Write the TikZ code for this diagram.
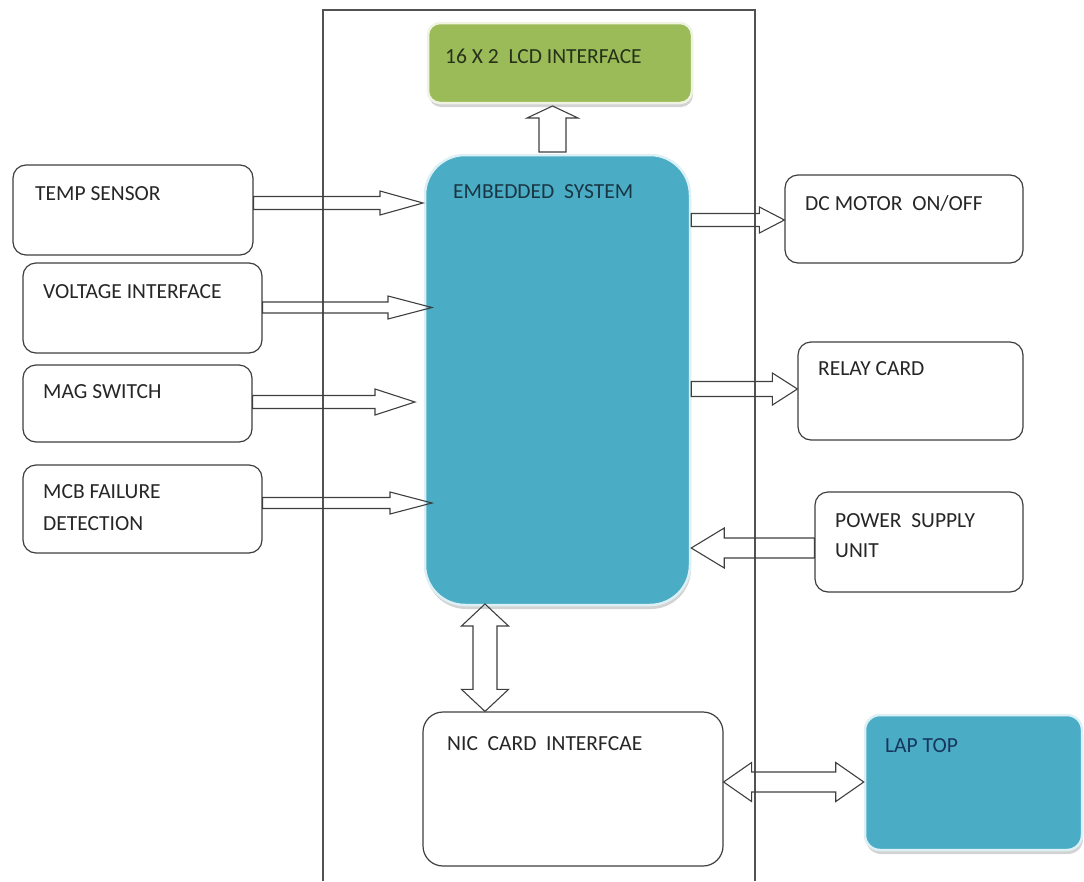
\documentclass[tikz,border=0pt]{standalone}
\usepackage{fontspec}
\setmainfont{Carlito}
\usetikzlibrary{calc,shadows,positioning}
\definecolor{edge}{HTML}{3F3F3F}
\definecolor{lcdgreen}{HTML}{9BBB59}
\definecolor{embblue}{HTML}{4BACC6}
\definecolor{glowgreen}{HTML}{EEF3E2}
\definecolor{glowblue}{HTML}{DDF0F5}
\definecolor{txtgray}{HTML}{262626}
\definecolor{txtgreen}{HTML}{26311A}
\definecolor{txtblue}{HTML}{1A3644}
\definecolor{txtnavy}{HTML}{17365D}
\tikzset{
  wbox/.style={draw=edge, line width=1.2pt, rounded corners=13pt, fill=white, inner sep=0pt},
  cbox/.style={line width=2.5pt, inner sep=0pt, drop shadow={shadow xshift=1pt, shadow yshift=-4pt, opacity=0.35}},
  txt/.style={anchor=base west, inner sep=0pt, font=\fontsize{21.5}{26}\selectfont, text=txtgray},
  barrow/.style={draw=edge, line width=1.1pt, line join=miter},
  framel/.style={draw=edge!90, line width=1.4pt}
}
% right/left horizontal block arrow: #1 tail, #2 tip, #3 half shaft, #4 half head, #5 head length (signed)
\newcommand\hblk[5]{%
  \draw[barrow] ($(#1)+(0,-#3)$) -- ($(#2)+({-(#5)},-#3)$) -- ($(#2)+({-(#5)},-#4)$) -- (#2)
    -- ($(#2)+({-(#5)},#4)$) -- ($(#2)+({-(#5)},#3)$) -- ($(#1)+(0,#3)$) -- cycle;}
% vertical block arrow (y axis points down): #5 head length signed
\newcommand\vblk[5]{%
  \draw[barrow] ($(#1)+(-#3,0)$) -- ($(#2)+(-#3,{-(#5)})$) -- ($(#2)+(-#4,{-(#5)})$) -- (#2)
    -- ($(#2)+(#4,{-(#5)})$) -- ($(#2)+(#3,{-(#5)})$) -- ($(#1)+(#3,0)$) -- cycle;}
% double horizontal: #1 left tip, #2 right tip, #3 half shaft, #4 half head, #5 head length
\newcommand\hdblk[5]{%
  \draw[barrow] (#1) -- ($(#1)+(#5,-#4)$) -- ($(#1)+(#5,-#3)$) -- ($(#2)+(-#5,-#3)$) -- ($(#2)+(-#5,-#4)$) -- (#2)
    -- ($(#2)+(-#5,#4)$) -- ($(#2)+(-#5,#3)$) -- ($(#1)+(#5,#3)$) -- ($(#1)+(#5,#4)$) -- cycle;}
% double vertical: #1 top tip, #2 bottom tip
\newcommand\vdblk[5]{%
  \draw[barrow] (#1) -- ($(#1)+(#4,#5)$) -- ($(#1)+(#3,#5)$) -- ($(#2)+(#3,-#5)$) -- ($(#2)+(#4,-#5)$) -- (#2)
    -- ($(#2)+(-#4,-#5)$) -- ($(#2)+(-#3,-#5)$) -- ($(#1)+(-#3,#5)$) -- ($(#1)+(-#4,#5)$) -- cycle;}
\begin{document}
\begin{tikzpicture}[x=1pt,y=-1pt]
\useasboundingbox (0,0) rectangle (1084,881);

% outer frame
\coordinate (fbl) at (323,881);
\coordinate (ftl) at (323,10);
\coordinate (ftr) at (755,10);
\coordinate (fbr) at (755,881);
\draw[framel] (fbl) -- (ftl) -- (ftr) -- (fbr);

% coloured boxes
\node[cbox, fill=lcdgreen, draw=glowgreen, rounded corners=12pt, minimum width=264pt, minimum height=80pt] (lcd) at (560,63) {};
\node[cbox, fill=embblue, draw=glowblue, rounded corners=40pt, minimum width=265pt, minimum height=450pt] (emb) at (557.5,380) {};
\node[cbox, fill=embblue, draw=glowblue, rounded corners=15pt, minimum width=217pt, minimum height=135pt] (lap) at (973.5,782.5) {};

% white boxes
\node[wbox, minimum width=240pt, minimum height=90pt] (temp) at (133,210) {};
\node[wbox, minimum width=239pt, minimum height=90pt] (volt) at (142.5,308) {};
\node[wbox, minimum width=229pt, minimum height=77pt] (mag) at (137.5,403.5) {};
\node[wbox, minimum width=239pt, minimum height=88pt] (mcb) at (142.5,509) {};
\node[wbox, minimum width=238pt, minimum height=88pt] (dc) at (904,219) {};
\node[wbox, minimum width=225pt, minimum height=98pt] (relay) at (910.5,391) {};
\node[wbox, minimum width=208pt, minimum height=100pt] (power) at (919,542) {};
\node[wbox, rounded corners=20pt, minimum width=300pt, minimum height=154pt] (nic) at (573,789) {};

% texts
\node[txt, text=txtgreen] (lcdt) at (445,63) {16 X 2\ \ LCD INTERFACE};
\node[txt, text=txtblue] (embt) at (453,198) {EMBEDDED\ \ SYSTEM};
\node[txt] (tempt) at (35,200) {TEMP SENSOR};
\node[txt] (voltt) at (43,298) {VOLTAGE INTERFACE};
\node[txt] (magt) at (43,398) {MAG SWITCH};
\node[txt] (mcbt) at (43,498) {MCB FAILURE};
\node[txt] (mcbt2) at (43,530) {DETECTION};
\node[txt] (dct) at (805,210) {DC MOTOR\ \ ON/OFF};
\node[txt] (relayt) at (818,375) {RELAY CARD};
\node[txt] (powert) at (835,527) {POWER\ \ SUPPLY};
\node[txt] (powert2) at (835,557) {UNIT};
\node[txt] (nict) at (447,750) {NIC\ \ CARD\ \ INTERFCAE};
\node[txt, text=txtnavy] (lapt) at (885,752) {LAP TOP};

% arrow end points
\coordinate (a1) at (temp.east |- 0,203);   \coordinate (b1) at (423,203);
\coordinate (a2) at (volt.east |- 0,307.5); \coordinate (b2) at (432,307.5);
\coordinate (a3) at (mag.east |- 0,402);    \coordinate (b3) at (415,402);
\coordinate (a4) at (mcb.east |- 0,503);    \coordinate (b4) at (432,503);
\coordinate (a5) at (emb.east |- 0,220);    \coordinate (b5) at (dc.west |- a5);
\coordinate (a6) at (emb.east |- 0,389);    \coordinate (b6) at (relay.west |- a6);
\coordinate (a7) at (power.west |- 0,548);  \coordinate (b7) at (emb.east |- a7);
\coordinate (a8) at (552.5,152);            \coordinate (b8) at (552.5,106);
\coordinate (a9) at (485,604);              \coordinate (b9) at (nic.north -| a9);
\coordinate (a10) at (nic.east |- 0,782);   \coordinate (b10) at (lap.west |- a10);

\hblk{a1}{b1}{6.5}{12}{43}
\hblk{a2}{b2}{5.5}{11.5}{44}
\hblk{a3}{b3}{6.5}{13}{40}
\hblk{a4}{b4}{5.5}{11}{42}
\hblk{a5}{b5}{6.5}{13}{25}
\hblk{a6}{b6}{7.5}{16}{25}
\hblk{a7}{b7}{10}{20}{-33}
\vblk{a8}{b8}{13.5}{25.5}{-12}
\vdblk{a9}{b9}{12}{23.5}{22}
\hdblk{a10}{b10}{10}{19.5}{28}
\end{tikzpicture}
\end{document}
